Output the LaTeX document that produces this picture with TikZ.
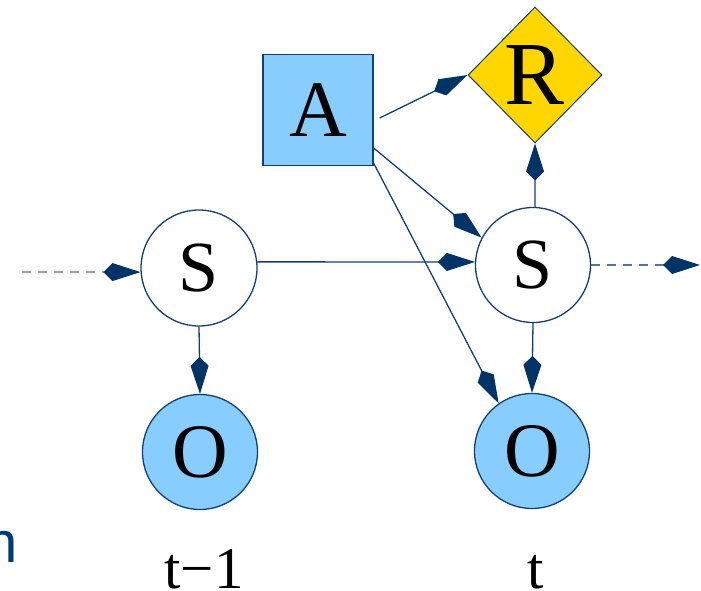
\documentclass[tikz,border=0pt]{standalone}
\usepackage{fontspec}
\setmainfont{Liberation Serif}
\newfontfamily\labelsans{Liberation Sans}
\usetikzlibrary{arrows.meta,shapes.geometric}
\definecolor{navy}{RGB}{0,51,102}
\definecolor{edgeblue}{RGB}{16,64,120}
\definecolor{lightblue}{RGB}{135,206,255}
\definecolor{gold}{RGB}{255,214,0}
\definecolor{dashblue}{RGB}{85,115,155}
\definecolor{textnavy}{RGB}{0,60,120}
\begin{document}
\begin{tikzpicture}[x=1pt,y=-1pt,
  every node/.style={inner sep=0pt},
  circ/.style={circle,draw=edgeblue,line width=1.3pt,minimum size=116pt,font=\fontsize{72}{72}\selectfont},
  link/.style={draw=edgeblue,line width=1.3pt,-{Kite[length=37pt,width=18pt,inset=9pt,color=navy,fill=navy]}},
  dlink/.style={link,draw=dashblue,dash pattern=on 9pt off 7pt},
  steplabel/.style={anchor=base,font=\fontsize{59}{60}\selectfont}
]
\useasboundingbox (0,0) rectangle (701,591);
\clip (0,0) rectangle (701,591);

% nodes
\node[rectangle,draw=edgeblue,line width=1.3pt,fill=lightblue,minimum width=110pt,minimum height=111pt,font=\fontsize{80}{80}\selectfont] (A) at (318,110) {A};
\node[diamond,draw=edgeblue,line width=1pt,fill=gold,minimum width=134pt,minimum height=136pt,font=\fontsize{90}{90}\selectfont] (R) at (535,75) {R};
\node[circ] (sl) at (199,268) {S};
\node[circ,minimum size=115pt] (sr) at (533,265) {S};
\node[circ,fill=lightblue,minimum size=115pt,font=\fontsize{77}{77}\selectfont] (ol) at (200,452) {O};
\node[circ,fill=lightblue,minimum size=115pt,font=\fontsize{77}{77}\selectfont] (or) at (532,451) {O};

\node[steplabel] (tl) at (204,588) {t−1};
\node[steplabel] (tt) at (536,588) {t};
\node[anchor=base east,text=textnavy,font=\labelsans\fontsize{58}{60}\selectfont] (n) at (18,562) {n};

\coordinate (inL) at (22,272);
\coordinate (outR) at (700,265);

% connectors
\draw[dlink] (inL) -- (sl.184);
\draw[link] (sl.6) -- (sr.177);
\draw[dlink] (sr.0) -- (outR);
\draw[link] ([shift={(6,8)}]A.east) -- (R.west);
\draw[link] ([shift={(0,38)}]A.east) -- (sr.152);
\draw[link] ([shift={(0,-3)}]A.south east) -- (or.125);
\draw[link] (sr.88) -- (R.south);
\draw[link] (sl.south) -- (ol.north);
\draw[link] (sr.south) -- (or.north);
\end{tikzpicture}
\end{document}
